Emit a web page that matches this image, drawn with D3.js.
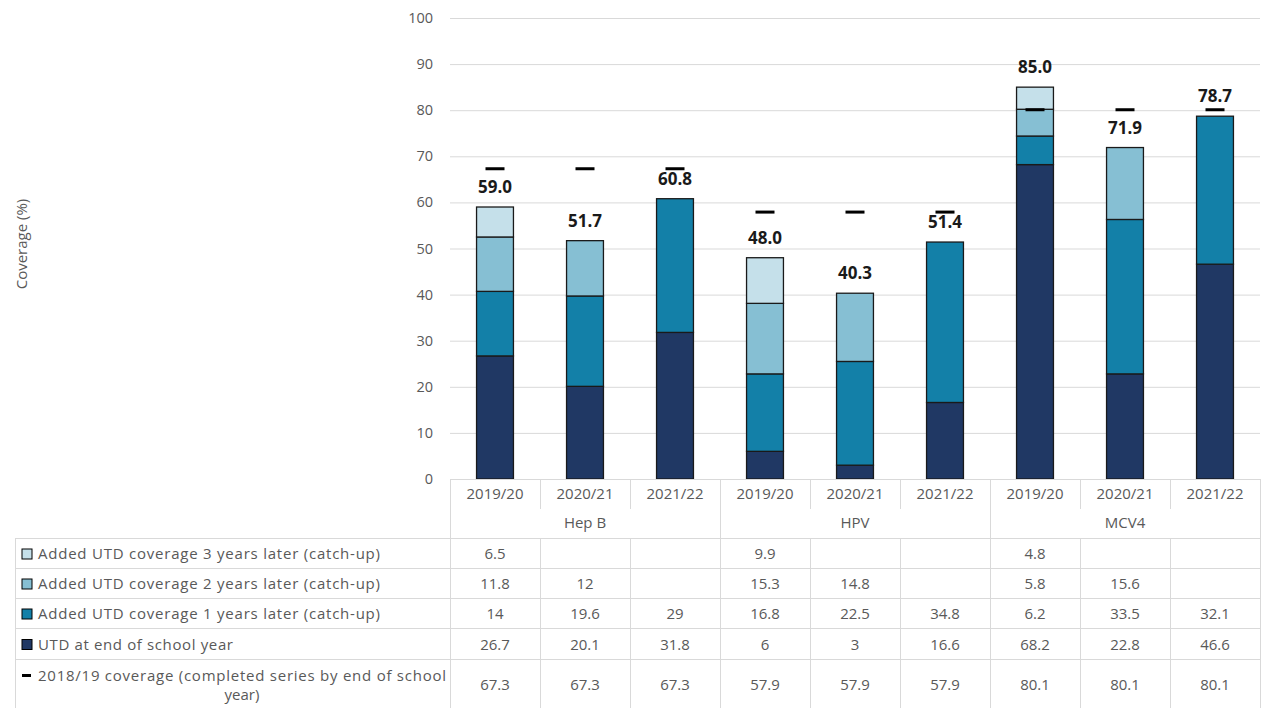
<!DOCTYPE html>
<html>
<head>
<meta charset="utf-8">
<script src="https://cdn.jsdelivr.net/npm/d3@7"></script>
<style>
  body { margin: 0; background: #fff; }
  svg { font-family: "Open Sans", sans-serif; }
</style>
</head>
<body>
<div id="chart"></div>
<script>
const years = ["2019/20","2020/21","2021/22","2019/20","2020/21","2021/22","2019/20","2020/21","2021/22"]
const groups = ["Hep B","HPV","MCV4"]
const catch3 = [6.5, null, null, 9.9, null, null, 4.8, null, null]
const catch2 = [11.8, 12, null, 15.3, 14.8, null, 5.8, 15.6, null]
const catch1 = [14, 19.6, 29, 16.8, 22.5, 34.8, 6.2, 33.5, 32.1]
const utd = [26.7, 20.1, 31.8, 6, 3, 16.6, 68.2, 22.8, 46.6]
const baseline = [67.3, 67.3, 67.3, 57.9, 57.9, 57.9, 80.1, 80.1, 80.1]
const yTicks = [0,10,20,30,40,50,60,70,80,90,100]

const width = 1262
const height = 708

const svg = d3.select("#chart")
  .append("svg")
  .attr("width", width)
  .attr("height", height)

const x = d3.scaleBand()
  .domain(d3.range(years.length))
  .range([450, 1260])

const y = d3.scaleLinear()
  .domain([0, 100])
  .range([479, 18])

const barW = x.bandwidth() * 0.41

// stack order bottom -> top
const keys = ["utd","c1","c2","c3"]
const colors = {utd: "#203864", c1: "#1380a8", c2: "#86bfd3", c3: "#c5e0ea"}
const rows = years.map((yr, i) => ({
  i, utd: utd[i] || 0, c1: catch1[i] || 0, c2: catch2[i] || 0, c3: catch3[i] || 0
}))
const series = d3.stack().keys(keys)(rows)

// gridlines
svg.append("g")
  .selectAll("line")
  .data(yTicks)
  .join("line")
  .attr("x1", 450).attr("x2", 1260)
  .attr("y1", d => y(d) + 0.5).attr("y2", d => y(d) + 0.5)
  .attr("stroke", "#d9d9d9")
  .attr("stroke-width", 1)

// y tick labels
svg.append("g")
  .selectAll("text")
  .data(yTicks)
  .join("text")
  .attr("x", 433)
  .attr("y", d => y(d))
  .attr("dy", "0.35em")
  .attr("text-anchor", "end")
  .style("font-size", "14.5px")
  .style("fill", "#595959")
  .text(d => d)

svg.append("text")
  .attr("transform", "translate(27, 244) rotate(-90)")
  .attr("text-anchor", "middle")
  .style("font-size", "15px")
  .style("fill", "#595959")
  .text("Coverage (%)")

// stacked bars
svg.append("g")
  .selectAll("g")
  .data(series)
  .join("g")
  .attr("fill", d => colors[d.key])
  .selectAll("rect")
  .data(d => d.filter(s => s[1] - s[0] > 0))
  .join("rect")
  .attr("x", d => x(d.data.i) + (x.bandwidth() - barW) / 2)
  .attr("y", d => y(d[1]))
  .attr("width", barW)
  .attr("height", d => y(d[0]) - y(d[1]))
  .attr("stroke", "#1a1a1a")
  .attr("stroke-width", 1.3)

// 2018/19 markers
svg.append("g")
  .selectAll("rect")
  .data(baseline)
  .join("rect")
  .attr("x", (d, i) => x(i) + x.bandwidth() / 2 - 9.5)
  .attr("y", d => y(d) - 1.5)
  .attr("width", 19)
  .attr("height", 3)
  .attr("fill", "#000")

// totals
svg.append("g")
  .selectAll("text")
  .data(rows)
  .join("text")
  .attr("x", d => x(d.i) + x.bandwidth() / 2)
  .attr("y", d => y(d.utd + d.c1 + d.c2 + d.c3) - 14)
  .attr("text-anchor", "middle")
  .style("font-size", "17px")
  .style("font-weight", "bold")
  .style("fill", "#1a1a1a")
  .text(d => (d.utd + d.c1 + d.c2 + d.c3).toFixed(1))

// ---- data table ----
const grid = "#d9d9d9"
const table = svg.append("g")
const rowEdges = [538, 568, 598, 628, 659, 708]

// x axis line
table.append("line")
  .attr("x1", 450).attr("x2", 1260).attr("y1", 479.5).attr("y2", 479.5)
  .attr("stroke", grid)

// horizontal rows
table.selectAll(".hrow")
  .data(rowEdges)
  .join("line")
  .attr("x1", 15).attr("x2", 1260)
  .attr("y1", d => d + 0.5).attr("y2", d => d + 0.5)
  .attr("stroke", grid)

// vertical lines: group edges full height, year edges short in header + in data rows
const edges = d3.range(years.length + 1).map(i => i < years.length ? x(i) : x(i - 1) + x.bandwidth())
table.selectAll(".vline")
  .data(edges)
  .join("line")
  .attr("x1", d => d + 0.5).attr("x2", d => d + 0.5)
  .attr("y1", 479)
  .attr("y2", (d, i) => i % 3 === 0 ? 708 : 509)
  .attr("stroke", grid)
table.selectAll(".vline2")
  .data(edges.filter((d, i) => i % 3 !== 0))
  .join("line")
  .attr("x1", d => d + 0.5).attr("x2", d => d + 0.5)
  .attr("y1", 538).attr("y2", 708)
  .attr("stroke", grid)
table.append("line")
  .attr("x1", 15.5).attr("x2", 15.5).attr("y1", 538).attr("y2", 708)
  .attr("stroke", grid)

const fs = "15px"

// year header
table.selectAll(".yr")
  .data(years)
  .join("text")
  .attr("x", (d, i) => x(i) + x.bandwidth() / 2)
  .attr("y", 494)
  .attr("dy", "0.35em")
  .attr("text-anchor", "middle")
  .style("font-size", fs).style("fill", "#595959")
  .text(d => d)

table.selectAll(".grp")
  .data(groups)
  .join("text")
  .attr("x", (d, i) => x(i * 3) + x.bandwidth() * 1.5)
  .attr("y", 523)
  .attr("dy", "0.35em")
  .attr("text-anchor", "middle")
  .style("font-size", fs).style("fill", "#595959")
  .text(d => d)

const tableRows = [
  {label: ["Added UTD coverage 3 years later (catch-up)"], w: [342], vals: catch3, key: "c3"},
  {label: ["Added UTD coverage 2 years later (catch-up)"], w: [342], vals: catch2, key: "c2"},
  {label: ["Added UTD coverage 1 years later (catch-up)"], w: [342], vals: catch1, key: "c1"},
  {label: ["UTD at end of school year"], w: [195], vals: utd, key: "utd"},
  {label: ["2018/19 coverage (completed series by end of school", "year)"], w: [408, 36], vals: baseline, key: "base"}
]

tableRows.forEach((r, ri) => {
  const top = rowEdges[ri], bot = rowEdges[ri + 1]
  const mid = (top + bot) / 2
  const g = table.append("g")
  g.selectAll("text")
    .data(r.vals)
    .join("text")
    .attr("x", (d, i) => x(i) + x.bandwidth() / 2)
    .attr("y", mid + 1)
    .attr("dy", "0.35em")
    .attr("text-anchor", "middle")
    .style("font-size", fs).style("fill", "#595959")
    .text(d => d == null ? "" : d)

  if (r.key === "base") {
    g.append("rect")
      .attr("x", 22).attr("y", top + 15).attr("width", 9).attr("height", 3)
      .attr("fill", "#000")
    g.append("text")
      .attr("x", 38).attr("y", top + 16.5).attr("dy", "0.35em")
      .attr("textLength", r.w[0]).attr("lengthAdjust", "spacing")
      .style("font-size", fs).style("fill", "#595959")
      .text(r.label[0])
    g.append("text")
      .attr("x", 242).attr("y", top + 36).attr("dy", "0.35em")
      .attr("text-anchor", "middle")
      .style("font-size", fs).style("fill", "#595959")
      .text(r.label[1])
  } else {
    g.append("rect")
      .attr("x", 22).attr("y", mid - 4).attr("width", 10).attr("height", 10)
      .attr("fill", colors[r.key])
      .attr("stroke", "#000").attr("stroke-width", 1)
    g.append("text")
      .attr("x", 38).attr("y", mid + 1).attr("dy", "0.35em")
      .attr("textLength", r.w[0]).attr("lengthAdjust", "spacing")
      .style("font-size", fs).style("fill", "#595959")
      .text(r.label[0])
  }
})
</script>
</body>
</html>
